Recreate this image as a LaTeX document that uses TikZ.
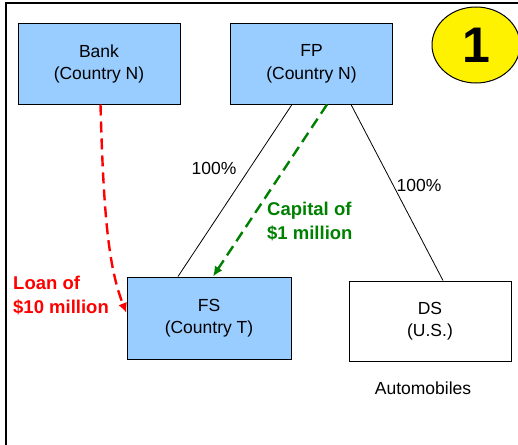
\documentclass[tikz,border=0pt]{standalone}
\usepackage{fontspec}
\setmainfont{Liberation Sans}
\usetikzlibrary{shapes.geometric,arrows.meta}
\definecolor{boxblue}{HTML}{99CCFF}
\definecolor{capgreen}{HTML}{008000}
\tikzset{
    entity/.style={draw=black,line width=1pt,minimum width=162pt,minimum height=80pt,align=center,inner sep=0pt,font=\fontsize{17.5}{22.5}\selectfont},
    owned/.style={line width=0.8pt},
    flow/.style={line width=2.4pt,dash pattern=on 11pt off 6pt,-{Latex[length=10pt,width=9pt]}},
    lbl/.style={font=\fontsize{17.5}{22.5}\selectfont,inner sep=0pt},
    flowlbl/.style={font=\fontsize{18.5}{24}\bfseries,align=left,inner sep=0pt}
}
\begin{document}
\begin{tikzpicture}[x=1pt,y=-1pt]
    \useasboundingbox (0,0) rectangle (518,444);
    % Frame
    \begin{scope}
        \clip (0,0) rectangle (518,444);
        \draw[line width=2.4pt] (6,3) rectangle (540,470);
    \end{scope}
    % Boxes
    \node[entity,fill=boxblue] (bank) at (99,64) {Bank\\(Country N)};
    \node[entity,fill=boxblue] (fp) at (311.5,64) {FP\\(Country N)};
    \node[entity,fill=boxblue,minimum width=164pt,minimum height=82pt] (fs) at (209,318) {FS\\(Country T)};
    \node[entity,fill=white] (ds) at (430,321) {DS\\(U.S.)};
    \node[lbl] (auto) at (423,388) {Automobiles};
    % Number
    \node[ellipse,draw=black,line width=1pt,fill=yellow,minimum width=88pt,minimum height=76pt,
          font=\fontsize{50}{50}\bfseries\selectfont] (num) at (476,45) {1};
    % Ownership
    \draw[owned] ([xshift=-19.5pt]fp.south) -- ([xshift=-31pt]fs.north);
    \draw[owned] ([xshift=39.5pt]fp.south) -- ([xshift=13pt]ds.north);
    \node[lbl] (pctfs) at (214,168) {100\%};
    \node[lbl] (pctds) at (419,185) {100\%};
    % Flows
    \draw[flow,capgreen] ([xshift=15.5pt]fp.south) -- ([xshift=4pt]fs.north);
    \node[flowlbl,text=capgreen,anchor=west] (cap) at (267,221) {Capital of\\\$1 million};
    \draw[flow,red] ([xshift=1.5pt]bank.south) .. controls +(3,110) and +(-18,-45) .. ([yshift=5pt]fs.west);
    \node[flowlbl,text=red,anchor=west] (loan) at (13,295) {Loan of\\\$10 million};
\end{tikzpicture}
\end{document}
